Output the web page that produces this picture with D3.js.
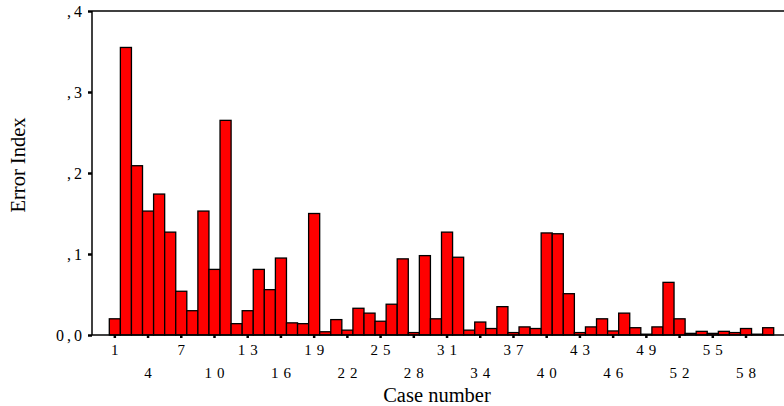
<!DOCTYPE html>
<html>
<head>
<meta charset="utf-8">
<script src="https://cdn.jsdelivr.net/npm/d3@7/dist/d3.min.js"></script>
<style>
  body { margin: 0; background: #fff; }
  svg { display: block; }
  text { font-family: "Liberation Serif", "Times New Roman", serif; fill: #000; }
</style>
</head>
<body>
<svg id="chart" width="784" height="406"></svg>
<script>
const cases = d3.range(1, 61);
const errorIndex = [
  0.020, 0.355, 0.209, 0.153, 0.174, 0.127, 0.054, 0.030, 0.153, 0.081,
  0.265, 0.014, 0.030, 0.081, 0.056, 0.095, 0.015, 0.014, 0.150, 0.004,
  0.019, 0.006, 0.033, 0.027, 0.017, 0.038, 0.094, 0.003, 0.098, 0.020,
  0.127, 0.096, 0.006, 0.016, 0.008, 0.035, 0.003, 0.010, 0.008, 0.126,
  0.125, 0.051, 0.003, 0.010, 0.020, 0.005, 0.027, 0.009, 0.001, 0.010,
  0.065, 0.020, 0.002, 0.0045, 0.002, 0.0045, 0.003, 0.008, 0.001, 0.009
];
const yTicks = [0, 0.1, 0.2, 0.3, 0.4];
const yTickLabels = ["0,0", ",1", ",2", ",3", ",4"];
const xTickCases = d3.range(1, 61, 3);

const svg = d3.select("#chart");
const axisLeftX = 92, axisRightX = 784, y0 = 335, yTop = 11;
const serif = '"Liberation Serif", "Times New Roman", serif';

const x = d3.scaleBand().domain(cases).range([109.3, 773.7]).padding(0);
const y = d3.scaleLinear().domain([0, 0.4]).range([y0, yTop]);

// bars
svg.append("g").selectAll("rect").data(cases).join("rect")
  .attr("x", d => x(d))
  .attr("y", (d, i) => y(errorIndex[i]))
  .attr("width", x.bandwidth())
  .attr("height", (d, i) => y0 - y(errorIndex[i]))
  .attr("fill", "#ff0000")
  .attr("stroke", "#000")
  .attr("stroke-width", 1.3);

// frame lines
svg.append("line").attr("x1", axisLeftX).attr("x2", axisRightX).attr("y1", y0).attr("y2", y0)
  .attr("stroke", "#000").attr("stroke-width", 1.5);
svg.append("line").attr("x1", axisLeftX).attr("x2", axisRightX).attr("y1", yTop).attr("y2", yTop)
  .attr("stroke", "#000").attr("stroke-width", 1.5);
svg.append("line").attr("x1", axisLeftX).attr("x2", axisLeftX).attr("y1", yTop).attr("y2", y0)
  .attr("stroke", "#000").attr("stroke-width", 1.5);

// y axis
const yAxis = d3.axisLeft(y).tickValues(yTicks).tickSize(4).tickPadding(3)
  .tickFormat((d, i) => yTickLabels[i]);
const gy = svg.append("g").attr("transform", `translate(${axisLeftX},0)`).call(yAxis);
gy.attr("font-family", serif).attr("font-size", 16);
gy.select(".domain").remove();
gy.selectAll(".tick line").attr("stroke", "#000").attr("stroke-width", 2.5);
gy.selectAll(".tick text")
  .style("letter-spacing", "3px")
  .attr("fill", "#000");

// x axis
const xAxis = d3.axisBottom(x).tickValues(xTickCases).tickSize(3).tickPadding(0).tickFormat(d => d);
const gx = svg.append("g").attr("transform", `translate(0,${y0})`).call(xAxis);
gx.attr("font-family", serif).attr("font-size", 15);
gx.select(".domain").remove();
gx.selectAll(".tick line").attr("stroke", "#000").attr("stroke-width", 2.5);
gx.selectAll(".tick text")
  .style("letter-spacing", "5px")
  .attr("fill", "#000")
  .attr("dx", "2.5px")
  .attr("dy", null)
  .attr("y", (d, i) => i % 2 === 0 ? 20 : 43);

// axis titles
svg.append("text").attr("x", 437).attr("y", 402).attr("text-anchor", "middle")
  .style("font-size", "20.5px").text("Case number");
svg.append("text").attr("transform", "translate(25,165) rotate(-90)").attr("text-anchor", "middle")
  .style("font-size", "20.5px").text("Error Index");
</script>
</body>
</html>
